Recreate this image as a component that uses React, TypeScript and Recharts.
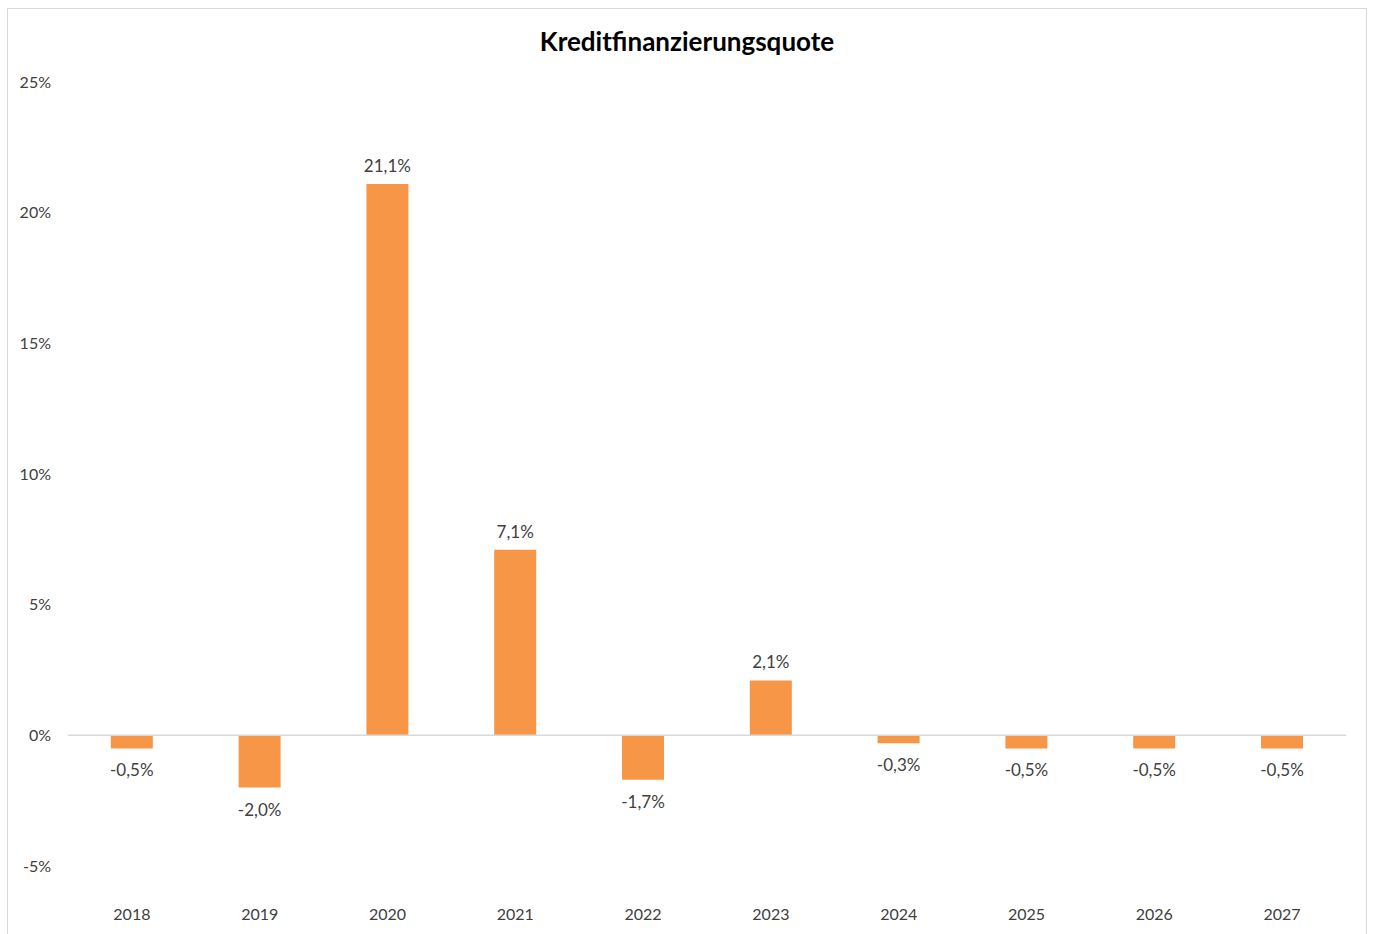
import { BarChart, Bar, XAxis, YAxis, ReferenceLine, LabelList } from 'recharts'

const years = ['2018', '2019', '2020', '2021', '2022', '2023', '2024', '2025', '2026', '2027']
const quote = [-0.5, -2.0, 21.1, 7.1, -1.7, 2.1, -0.3, -0.5, -0.5, -0.5]
const yTicks = [-5, 0, 5, 10, 15, 20, 25]

const chartData = years.map((year, i) => ({ year, quote: quote[i] }))

const FONT = 'Lato, "Open Sans", sans-serif'
const TEXT = '#404040'

const fmtPct = (v: number) => v.toFixed(1).replace('.', ',') + '%'

// value labels: above positive bars, below negative ones
function BarValue(props: any) {
  const { x, y, width, height, value } = props
  const v = Number(value)
  const top = Math.min(y, y + height)
  const bottom = Math.max(y, y + height)
  const ty = v >= 0 ? top - 12 : bottom + 28
  return (
    <text x={x + width / 2} y={ty} textAnchor="middle"
      style={{ fontSize: 17, fontFamily: FONT, fill: TEXT }}>
      {fmtPct(v)}
    </text>
  )
}

export default function App() {
  return (
    <div style={{
      position: 'absolute', left: 7, top: 8, width: 1360, height: 932,
      border: '1px solid #d9d9d9', boxSizing: 'border-box', background: '#fff',
      fontFamily: FONT,
    }}>
      <div style={{
        position: 'absolute', left: 0, right: 0, top: 16, textAlign: 'center',
        fontSize: 26, fontWeight: 700, color: '#000', lineHeight: '32px',
      }}>
        Kreditfinanzierungsquote
      </div>
      <BarChart width={1358} height={926} data={chartData}
        margin={{ top: 73, right: 20, left: 0, bottom: 9 }}
        barCategoryGap="33.5%">
        <XAxis dataKey="year" axisLine={false} tickLine={false} tickMargin={37} height={60}
          tick={{ fontSize: 16, fontFamily: FONT, fill: TEXT }} />
        <YAxis domain={[-5, 25]} ticks={yTicks} axisLine={false} tickLine={false}
          tickMargin={11} width={60} interval={0}
          tickFormatter={(v: number) => `${v}%`}
          tick={{ fontSize: 16, fontFamily: FONT, fill: TEXT }} />
        <ReferenceLine y={0} stroke="#d9d9d9" strokeWidth={1.5} />
        <Bar dataKey="quote" fill="#F79646" isAnimationActive={false}>
          <LabelList dataKey="quote" content={<BarValue />} />
        </Bar>
      </BarChart>
    </div>
  )
}
